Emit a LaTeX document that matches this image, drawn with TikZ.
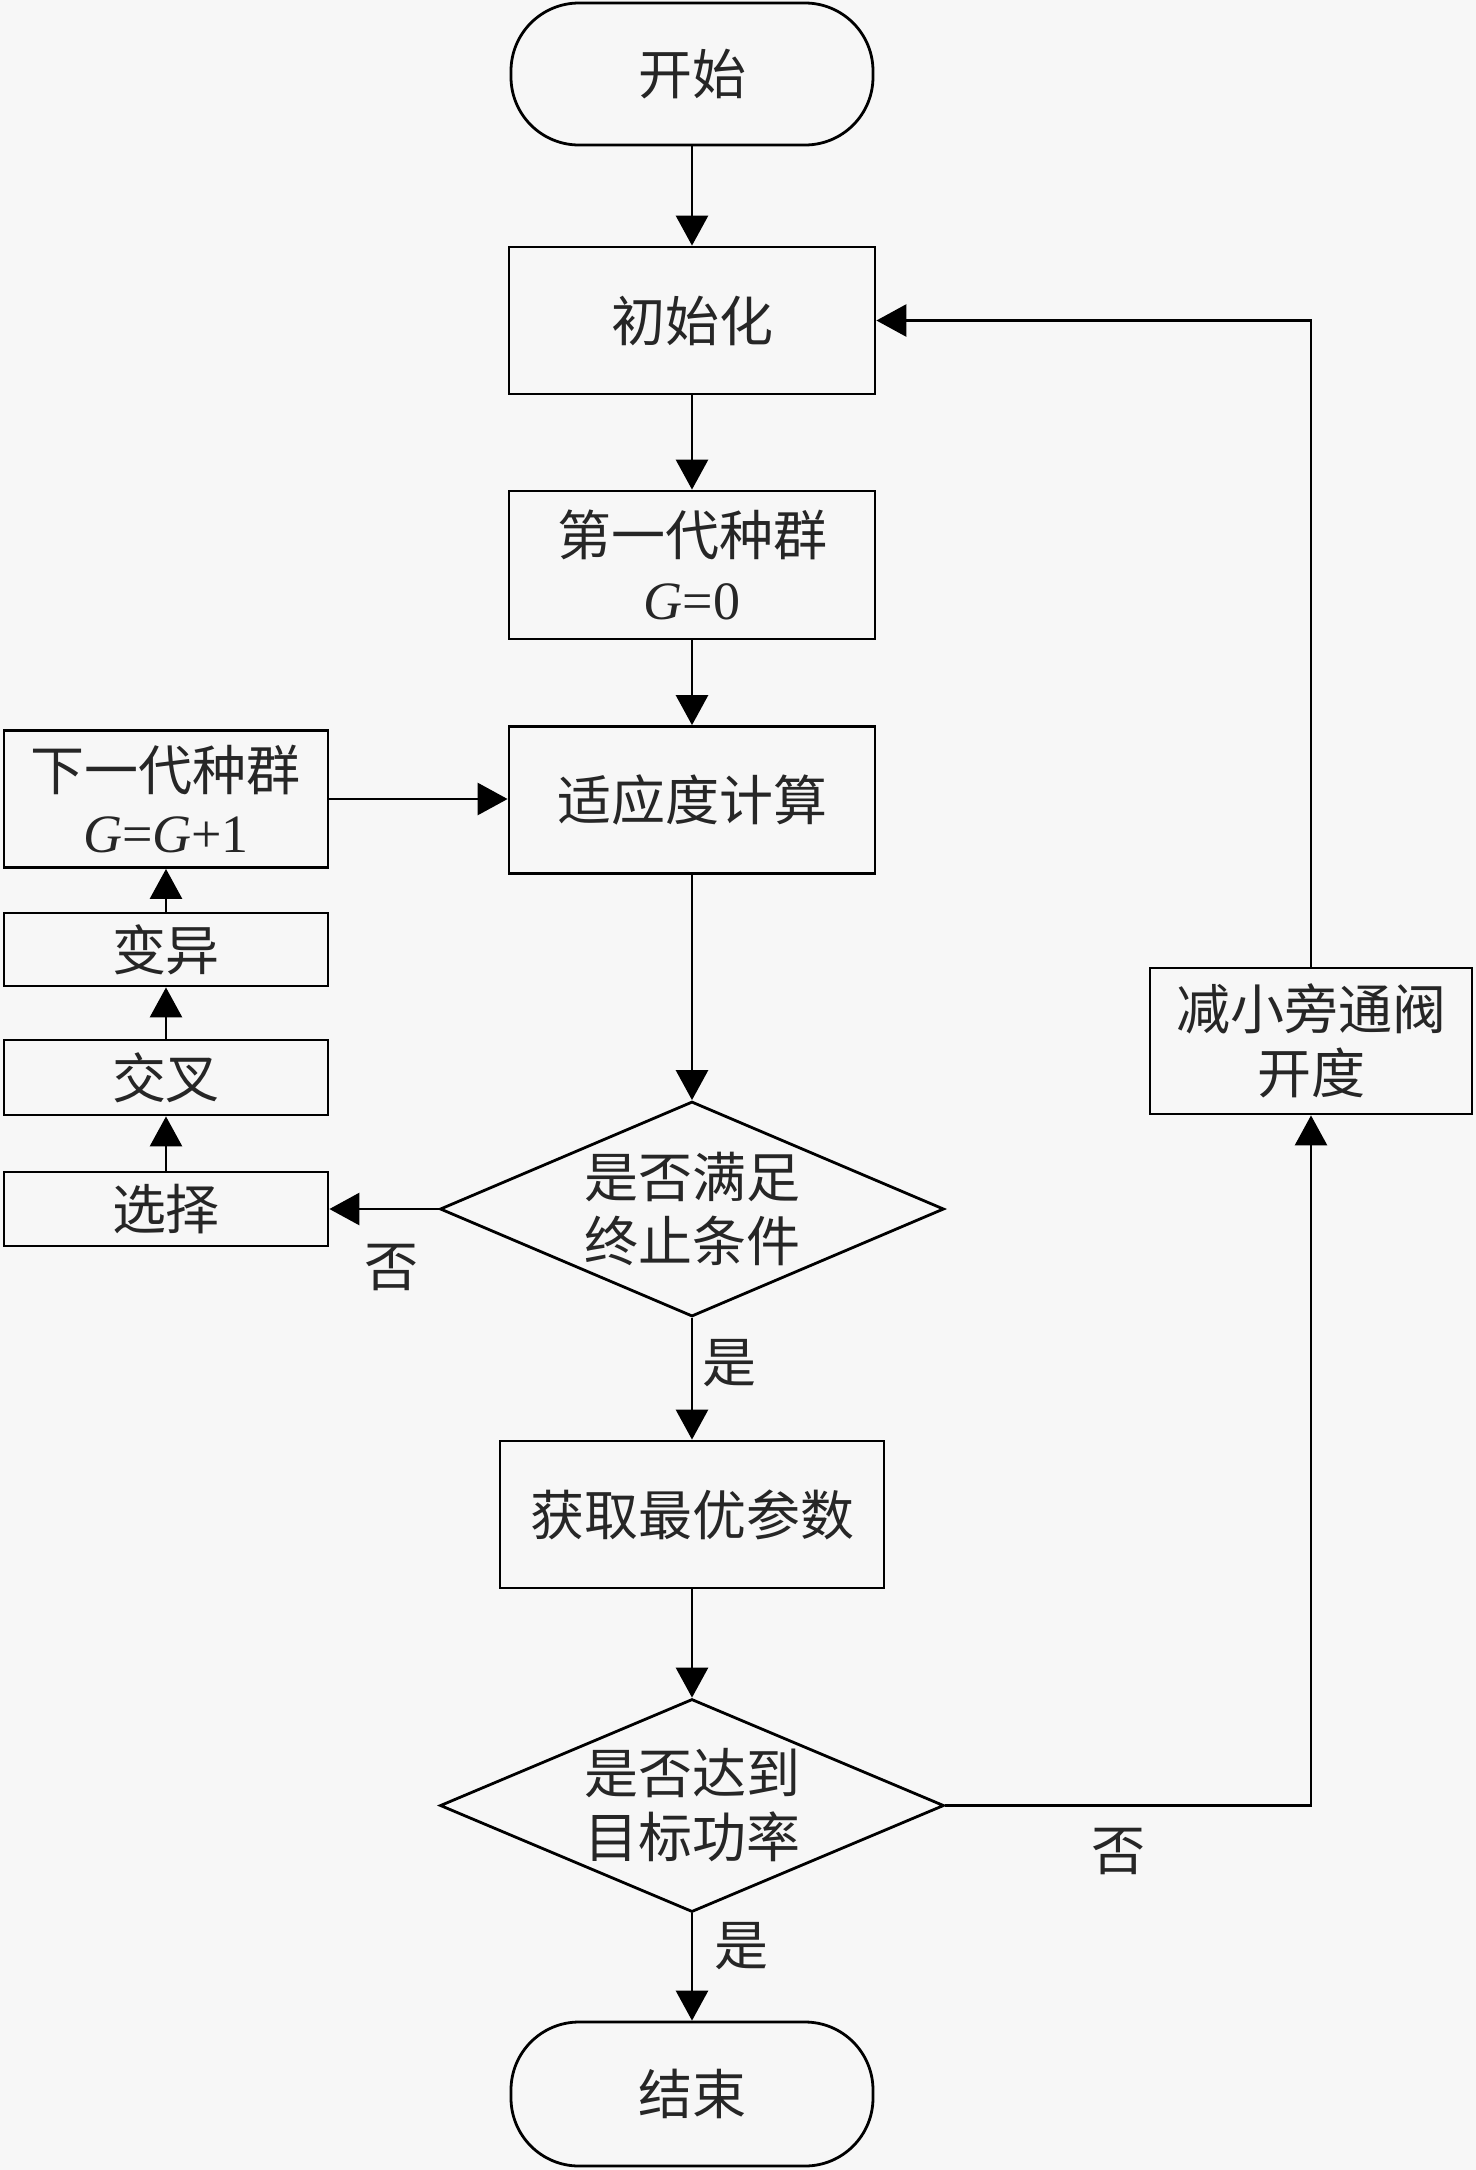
\documentclass[tikz,border=0pt]{standalone}
\usepackage{fontspec}
\setmainfont{Liberation Serif}
\newfontfamily\cjk{Noto Sans CJK SC}
\usetikzlibrary{shapes.geometric,arrows.meta}
\begin{document}
\begin{tikzpicture}[x=0.5pt,y=-0.5pt]
\tikzset{
  txt/.style={font=\cjk\fontsize{27}{32}\selectfont, align=center, text=black!85},
  base/.style={txt, draw=black, line width=1.4pt, inner sep=0pt},
  box/.style={base, rectangle, minimum width=183pt, minimum height=73.5pt},
  term/.style={base, rectangle, rounded corners=34pt, minimum width=181pt, minimum height=71pt},
  sbox/.style={base, rectangle, minimum width=162pt},
  decision/.style={draw=black, line width=1.4pt, diamond, minimum width=252pt, minimum height=107.5pt, inner sep=0pt},
  dtext/.style={txt, inner sep=0pt},
  arr/.style={line width=1.4pt, -{Triangle[length=15pt,width=16pt]}},
  lbl/.style={txt, inner sep=0pt}
}
\fill[black!3] (0,0) rectangle (1476,2170);
\useasboundingbox (0,0) rectangle (1476,2170);

% main column
\node[term] (start) at (692,74) {开始};
\node[box] (init) at (692,320.5) {初始化};
\node[box, minimum height=74pt] (pop1) at (692,565) {第一代种群\\{\rmfamily\textit{G}=0}};
\node[box] (fit) at (692,800) {适应度计算};
\node[decision] (d1) at (692,1209) {};
\node[dtext] (d1t) at (d1) {是否满足\\终止条件};
\node[box, minimum width=192pt] (best) at (692,1514.5) {获取最优参数};
\node[decision, minimum height=106.5pt] (d2) at (692,1805.5) {};
\node[dtext] (d2t) at (d2) {是否达到\\目标功率};
\node[term, minimum height=72pt] (end) at (692,2094) {结束};

% left column
\node[sbox, minimum height=68.5pt, font=\cjk\fontsize{27}{31}\selectfont] (next) at (166,799) {下一代种群\\{\rmfamily\textit{G}=\textit{G}+1}};
\node[sbox, minimum height=36.5pt] (mut) at (166,949.5) {变异};
\node[sbox, minimum height=37.5pt] (cross) at (166,1077.5) {交叉};
\node[sbox, minimum height=37pt] (sel) at (166,1209) {选择};

% right column
\node[box, minimum width=161pt, minimum height=73pt] (red) at (1311,1041) {减小旁通阀\\开度};

% connectors
\draw[arr] (start) -- (init);
\draw[arr] (init) -- (pop1);
\draw[arr] (pop1) -- (fit);
\draw[arr] (fit) -- (d1.north);
\draw[arr] (d1.south) -- (best);
\draw[arr] (best) -- (d2.north);
\draw[arr] (d2.south) -- (end);
\draw[arr] (d1.west) -- (d1.west -| sel.east);
\draw[arr] (sel) -- (cross);
\draw[arr] (cross) -- (mut);
\draw[arr] (mut) -- (next);
\draw[arr] (next.east) -- (next.east -| fit.west);
\draw[arr] (d2.east) -| (red.south);
\draw[arr] (red.north) |- (init.east);

% labels
\node[lbl] (no1) at (391,1267) {否};
\node[lbl] (yes1) at (729,1363) {是};
\node[lbl] (no2) at (1118,1851) {否};
\node[lbl] (yes2) at (741,1946) {是};
\end{tikzpicture}
\end{document}
